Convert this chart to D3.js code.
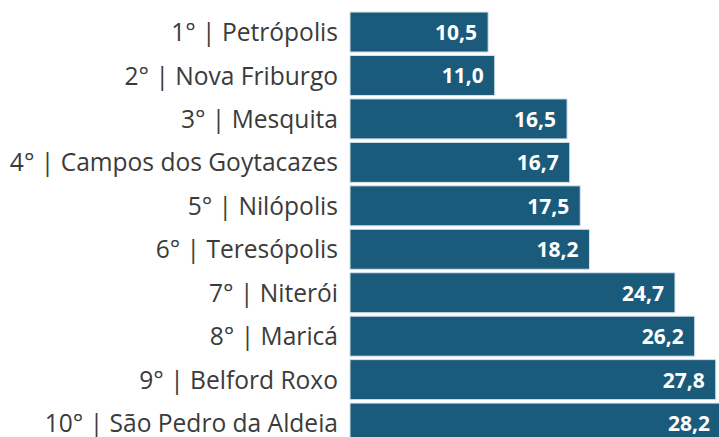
<!DOCTYPE html>
<html>
<head>
<meta charset="utf-8">
<script src="https://cdn.jsdelivr.net/npm/d3@7"></script>
<style>
  body { margin: 0; background: #fff; }
</style>
</head>
<body>
<div id="chart"></div>
<script>
// data
var ranks = ["1°", "2°", "3°", "4°", "5°", "6°", "7°", "8°", "9°", "10°"];
var cities = ["Petrópolis", "Nova Friburgo", "Mesquita", "Campos dos Goytacazes", "Nilópolis",
              "Teresópolis", "Niterói", "Maricá", "Belford Roxo", "São Pedro da Aldeia"];
var values = [10.5, 11.0, 16.5, 16.7, 17.5, 18.2, 24.7, 26.2, 27.8, 28.2];

var data = cities.map((c, i) => { return { label: ranks[i] + " | " + c, value: values[i] } });

var width = 719, height = 437;

var svg = d3.select("#chart")
  .append("svg")
    .attr("width", width)
    .attr("height", height);

// scales
var x = d3.scaleLinear()
  .domain([0, 28.2])
  .range([350, 721]);

var y = d3.scaleBand()
  .domain(data.map(d => d.label))
  .range([10.3, 444.8])
  .paddingInner(0.08)
  .paddingOuter(0.04);

// bars
svg.selectAll("rect.bar")
  .data(data)
  .enter()
  .append("rect")
    .attr("class", "bar")
    .attr("x", x(0))
    .attr("y", d => y(d.label))
    .attr("width", d => x(d.value) - x(0))
    .attr("height", y.bandwidth())
    .attr("fill", "#1a5a7a")
    .attr("stroke", "#d4e3ea")
    .attr("stroke-width", 1);

// value labels
svg.selectAll("text.val")
  .data(data)
  .enter()
  .append("text")
    .attr("class", "val")
    .attr("x", d => x(d.value) - 11)
    .attr("y", d => y(d.label) + y.bandwidth() / 2)
    .attr("dy", "0.38em")
    .attr("text-anchor", "end")
    .style("font-family", "'Open Sans', sans-serif")
    .style("font-weight", "bold")
    .style("font-size", "21px")
    .attr("fill", "#fff")
    .text(d => d3.format(".1f")(d.value).replace(".", ","));

// category labels (slightly condensed, like the source)
var labels = svg.append("g")
  .attr("transform", "translate(338,0) scale(0.945,1)");

labels.selectAll("text")
  .data(data)
  .enter()
  .append("text")
    .attr("x", 0)
    .attr("y", d => y(d.label) + y.bandwidth() / 2)
    .attr("dy", "0.35em")
    .attr("text-anchor", "end")
    .style("font-family", "'Open Sans', sans-serif")
    .style("font-size", "26px")
    .attr("fill", "#3b3b3b")
    .text(d => d.label);
</script>
</body>
</html>
